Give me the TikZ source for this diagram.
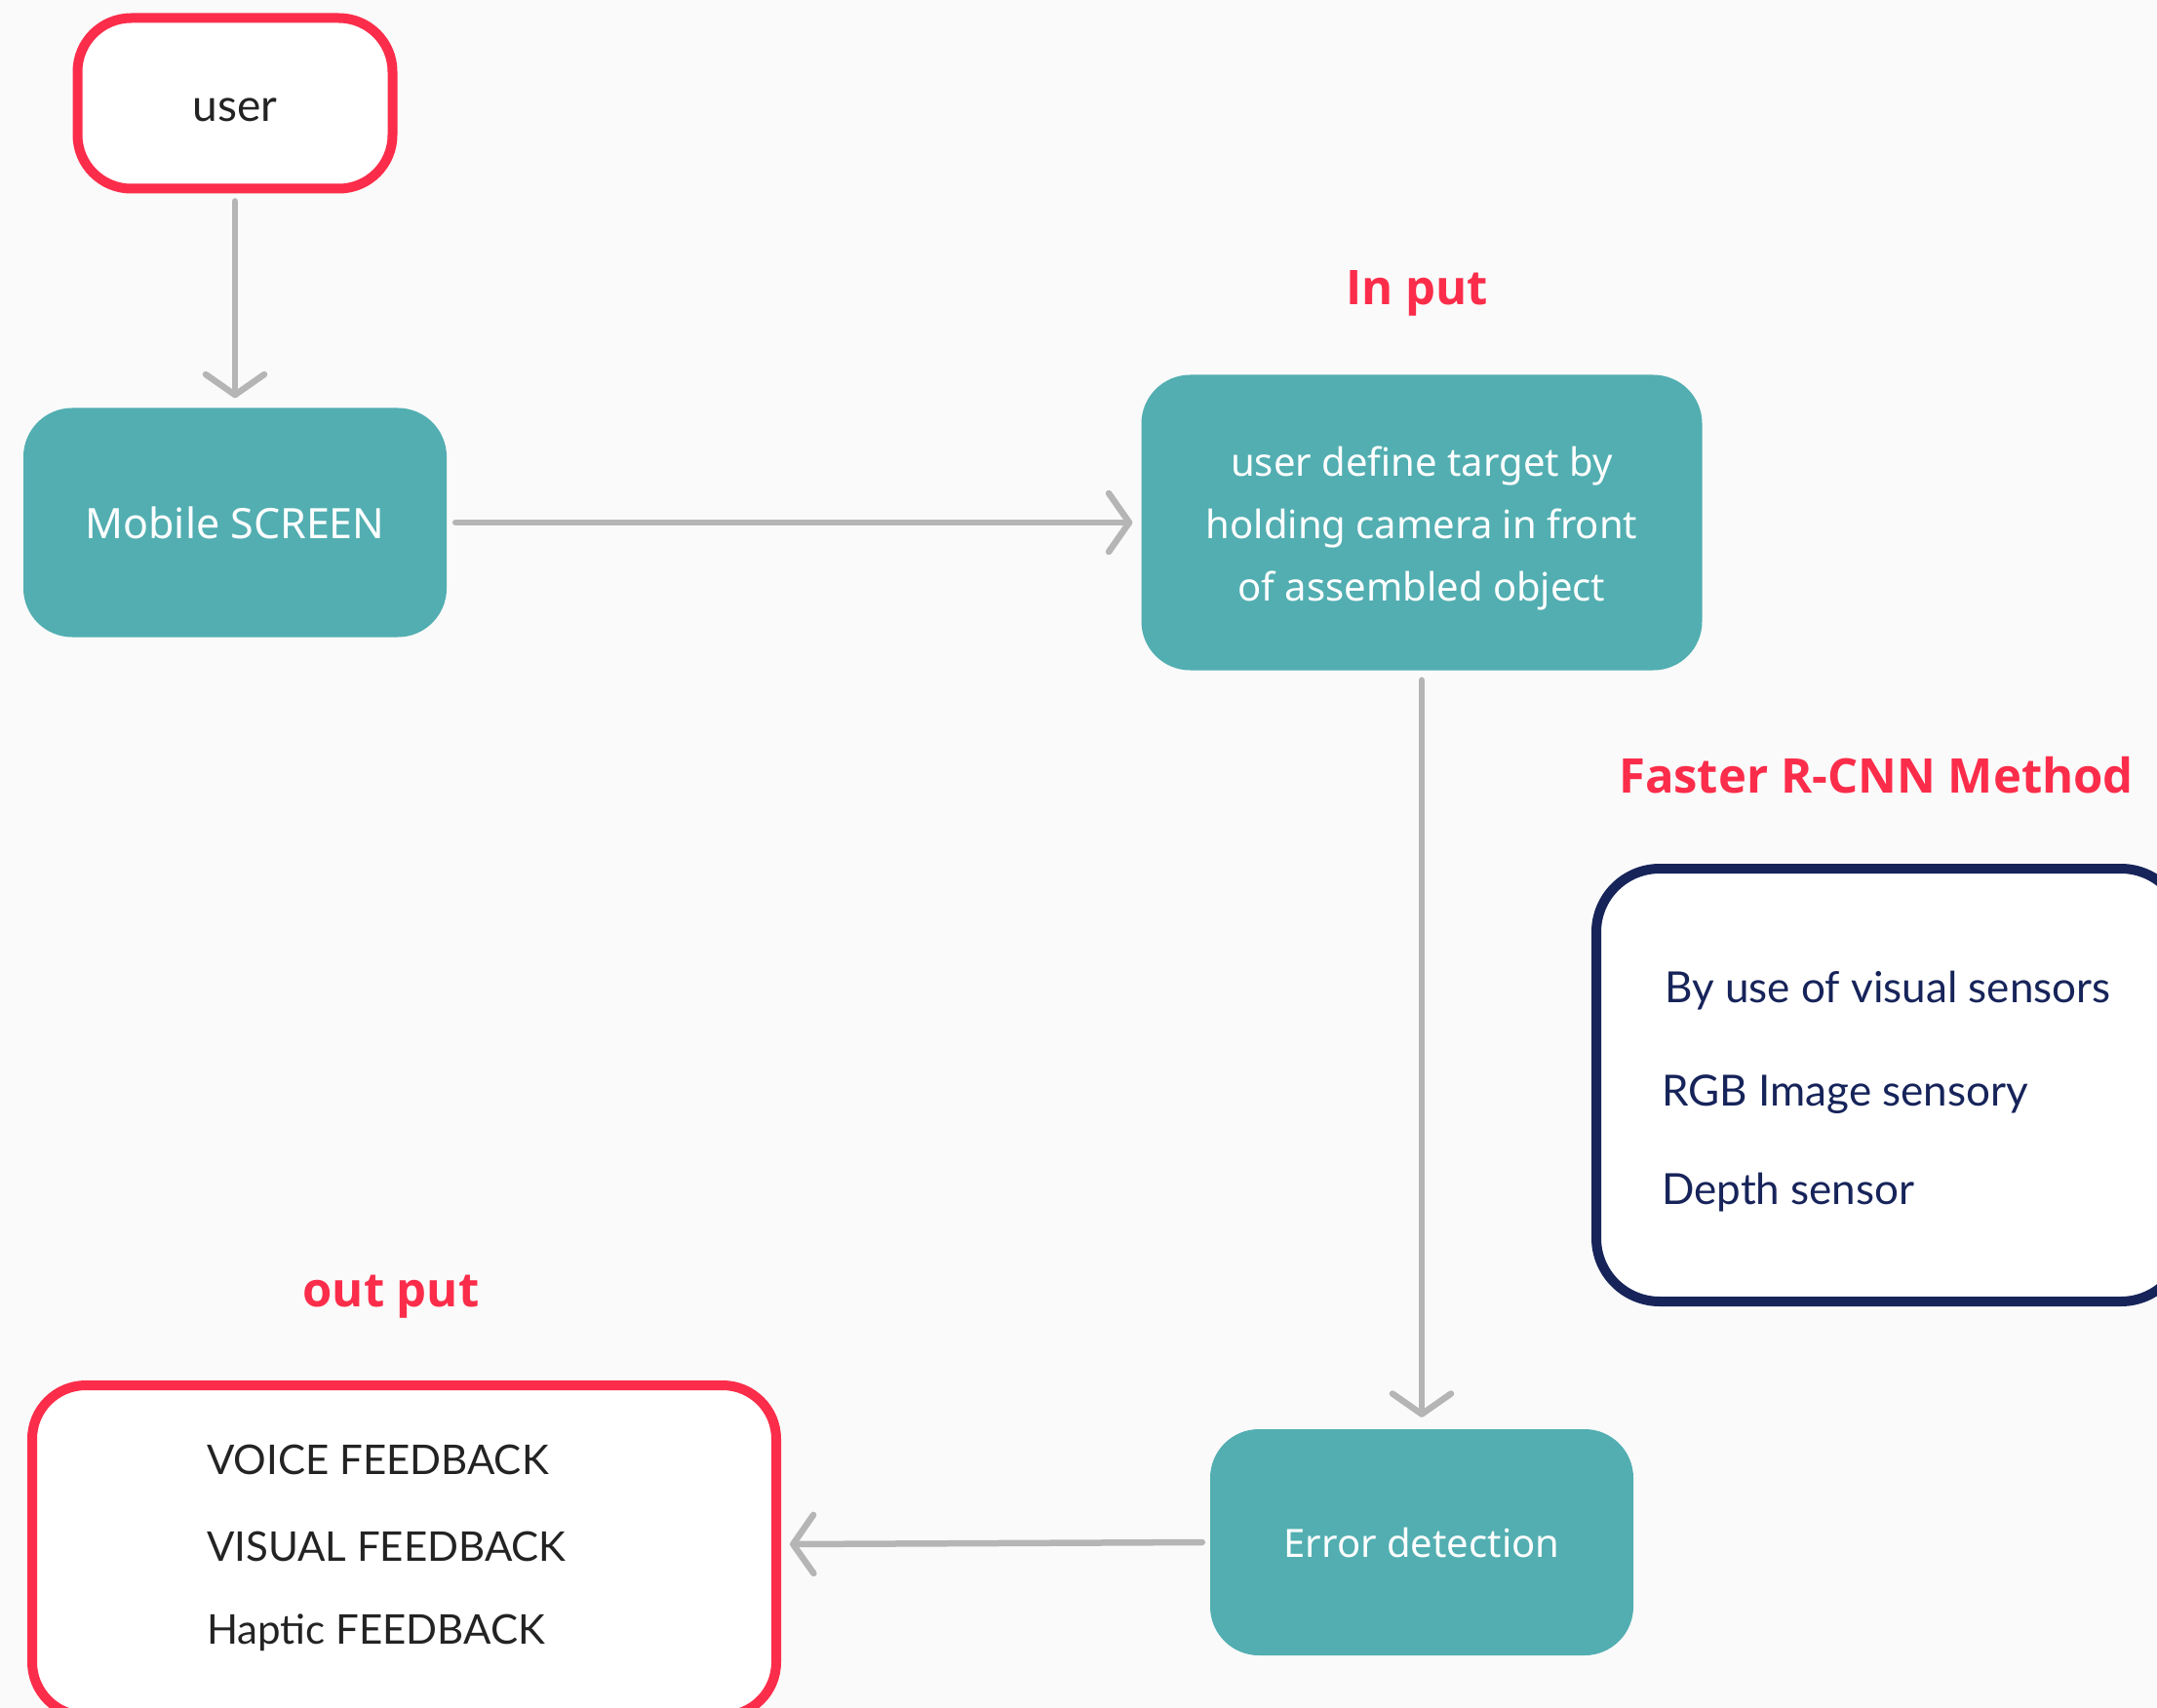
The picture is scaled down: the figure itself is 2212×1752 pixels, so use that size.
\documentclass[tikz,border=0pt]{standalone}
\usepackage{fontspec}
\usetikzlibrary{arrows.meta}
\setmainfont{Lato}
\newfontfamily\boxfont{Noto Sans}
\newfontfamily\headfont{Open Sans}
\definecolor{bgc}{HTML}{FAFAFA}
\definecolor{redc}{HTML}{FB2D4A}
\definecolor{tealc}{HTML}{52AEB1}
\definecolor{navyc}{HTML}{17245A}
\definecolor{arrowc}{HTML}{B5B5B5}
\definecolor{darktext}{HTML}{232323}
\tikzset{
  tealbox/.style={fill=tealc, rounded corners=50pt, text=white, align=center,
    font=\boxfont\fontsize{40}{64}\selectfont, inner sep=0pt},
  redbox/.style={draw=redc, line width=10pt, fill=white, rounded corners=55pt},
  navybox/.style={draw=navyc, line width=10pt, fill=white, rounded corners=65pt},
  flow/.style={draw=arrowc, line width=6.5pt, line cap=round,
    -{Straight Barb[length=21pt, width=60pt, round]}},
  heading/.style={text=redc, font=\headfont\bfseries\fontsize{49}{58}\selectfont},
  listtext/.style={anchor=west, inner sep=0pt}
}
\begin{document}
\begin{tikzpicture}[x=1pt, y=-1pt]
  \useasboundingbox (0,0) rectangle (2212,1752);
  \fill[bgc] (0,0) rectangle (2212,1752);
  \clip (0,0) rectangle (2212,1752);

  % user box
  \node[redbox, minimum width=323pt, minimum height=175pt] (user) at (241,106) {};
  \node[text=darktext, font=\fontsize{46}{52}\selectfont] (usertxt) at (241,113) {user};

  % process boxes
  \node[tealbox, minimum width=434pt, minimum height=235pt,
        font=\boxfont\fontsize{43}{50}\selectfont] (mobile) at (241,536) {Mobile SCREEN};
  \node[tealbox, minimum width=575pt, minimum height=303pt] (input) at (1458,536) {};
  \node[tealbox, fill=none] (inputtxt) at (1458,542)
    {user define target by\\holding camera in front\\of assembled object};
  \node[tealbox, minimum width=434pt, minimum height=232pt] (error) at (1458,1582) {Error detection};

  % headings
  \node[heading] (inputlbl) at (1453,301) {In put};
  \node[heading] (methodlbl) at (1924,795) {Faster R-CNN Method};
  \node[heading] (outputlbl) at (401,1330) {out put};

  % method box (runs past the right edge)
  \draw[navybox] (1637,891) rectangle (2240,1335);
  \begin{scope}[text=navyc, font=\fontsize{44}{50}\selectfont]
    \node[listtext] (m1) at (1707,1016) {By use of visual sensors};
    \node[listtext] (m2) at (1704,1123) {RGB Image sensory};
    \node[listtext] (m3) at (1704,1223) {Depth sensor};
  \end{scope}

  % output box (runs past the bottom edge)
  \draw[redbox] (33,1421) rectangle (796,1760);
  \node[coordinate] (outbox) at (796,1584) {};
  \begin{scope}[text=darktext, font=\fontsize{42}{50}\selectfont]
    \node[listtext] (o1) at (212,1497) {VOICE FEEDBACK};
    \node[listtext] (o2) at (212,1586) {VISUAL FEEDBACK};
    \node[listtext] (o3) at (212,1675) {Haptic FEEDBACK};
  \end{scope}

  % connectors
  \draw[flow] ([yshift=-8pt]user.south) -- ([yshift=10pt]mobile.north);
  \draw[flow] ([xshift=9pt]mobile.east) -- ([xshift=-9pt]input.west);
  \draw[flow] ([yshift=-10pt]input.south) -- ([yshift=12pt]error.north);
  \draw[flow] ([xshift=-8pt]error.west) -- ([xshift=14pt]outbox);
\end{tikzpicture}
\end{document}
